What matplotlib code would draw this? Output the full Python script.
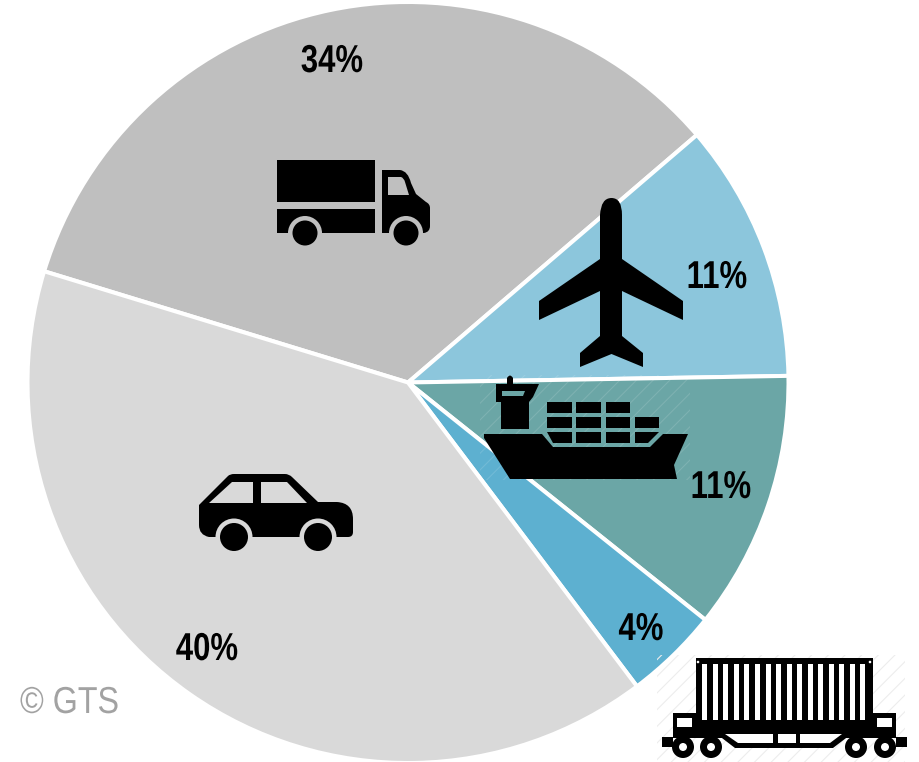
import matplotlib
matplotlib.use("Agg")
import matplotlib.pyplot as plt
import matplotlib.patheffects as pe
from matplotlib.patches import Circle, PathPatch, Polygon, Rectangle
from matplotlib.path import Path
from matplotlib.transforms import Affine2D

W, H = 920, 762
CX, CY, R = 408, 382.5, 380.5

modes = ["Truck", "Air", "Ship", "Rail", "Car"]
shares = [34, 11, 11, 4, 40]
colors = ["#BFBFBF", "#8CC6DC", "#6BA6A6", "#5DB0D0", "#D9D9D9"]
label_x = [332, 717, 721, 641, 207]
label_y = [62, 278, 488, 630, 650]
START_ANGLE = 163.0

plt.rcParams["font.family"] = ["Liberation Sans", "DejaVu Sans"]
plt.rcParams["hatch.linewidth"] = 0.8

fig = plt.figure(figsize=(W / 100, H / 100), dpi=100, facecolor="white")

# Pie axes sized so the unit circle fills the chosen pixel box
pie_ax = fig.add_axes([(CX - R) / W, 1 - (CY + R) / H, 2 * R / W, 2 * R / H])
pie_ax.pie(shares, colors=colors, startangle=START_ANGLE, counterclock=False, radius=1,
           wedgeprops={"edgecolor": "white", "linewidth": 2.9})
pie_ax.set_xlim(-1, 1)
pie_ax.set_ylim(-1, 1)
pie_ax.set_aspect("equal")
pie_ax.axis("off")

# Overlay in pixel units for the pictograms and text
ax = fig.add_axes([0, 0, 1, 1])
ax.set_xlim(0, W)
ax.set_ylim(H, 0)
ax.axis("off")
ax.patch.set_alpha(0)


class Condensed(pe.AbstractPathEffect):
    """Squeeze glyph outlines horizontally about a fixed display x."""

    def __init__(self, anchor_x, factor):
        super().__init__()
        self.anchor_x = anchor_x
        self.factor = factor

    def draw_path(self, renderer, gc, tpath, affine, rgbFace=None):
        squeeze = Affine2D().translate(-self.anchor_x, 0).scale(self.factor, 1).translate(self.anchor_x, 0)
        renderer.draw_path(gc, tpath, affine + squeeze, rgbFace)


def poly(points, color="black", z=3):
    ax.add_patch(Polygon(points, closed=True, facecolor=color, edgecolor="none", zorder=z))


def disc(x, y, r, color="black", z=3):
    ax.add_patch(Circle((x, y), r, facecolor=color, edgecolor="none", zorder=z))


def wheel(x, y, ring, r, bg):
    disc(x, y, ring, bg, z=4)
    disc(x, y, r, "black", z=5)


def smooth(vertices, color="black", z=3):
    # vertices: list of (code, x, y); M/L start or extend, Q is a quadratic control+end pair
    verts, codes = [], []
    for item in vertices:
        if item[0] == "M":
            verts.append(item[1:]); codes.append(Path.MOVETO)
        elif item[0] == "L":
            verts.append(item[1:]); codes.append(Path.LINETO)
        else:
            verts += [item[1:3], item[3:5]]; codes += [Path.CURVE3, Path.CURVE3]
    verts.append(verts[0]); codes.append(Path.CLOSEPOLY)
    ax.add_patch(PathPatch(Path(verts, codes), facecolor=color, edgecolor="none", zorder=z))


# Faint striped backings behind the ship and the wagon
ax.add_patch(Rectangle((480, 375), 210, 105, facecolor="none", edgecolor=(1, 1, 1, 0.13),
                       hatch="//", linewidth=0, zorder=2))
ax.add_patch(Rectangle((657, 655), 248, 107, facecolor="none", edgecolor="#EDEDED",
                       hatch="//", linewidth=0, zorder=2))

# Truck
TRUCK_BG = colors[0]
poly([(277, 160), (375, 160), (375, 202), (277, 202)])
poly([(277, 209), (375, 209), (375, 233), (277, 233)])
smooth([("M", 382, 170), ("L", 400, 170), ("Q", 408, 171, 411, 183), ("L", 416, 194),
        ("L", 426, 202), ("Q", 430, 204, 430, 208), ("L", 430, 226), ("Q", 430, 232, 424, 233),
        ("L", 382, 233)])
smooth([("M", 388, 177), ("L", 401, 177), ("Q", 404, 178, 405, 182), ("L", 409, 195), ("L", 388, 195)],
       TRUCK_BG, z=4)
wheel(305, 233, 17, 12.5, TRUCK_BG)
wheel(406, 233, 17, 12.5, TRUCK_BG)

# Aeroplane
smooth([("M", 600, 215), ("Q", 601, 198, 611.5, 198), ("Q", 622, 198, 622, 215),
        ("L", 622, 259), ("L", 683, 301), ("L", 683, 320), ("L", 622, 291), ("L", 622, 336),
        ("L", 643, 353), ("L", 643, 367), ("L", 611.5, 354), ("L", 580, 367), ("L", 580, 353),
        ("L", 600, 336), ("L", 600, 291), ("L", 539, 320), ("L", 539, 301), ("L", 600, 259)])

# Container ship
SHIP_BG = colors[2]
poly([(484, 434), (542, 434), (553, 447), (650, 447), (663, 434), (688, 434), (674, 465),
      (677, 479), (510, 479), (484, 438)])
poly([(501, 402), (529, 402), (529, 429), (501, 429)])
poly([(496, 384), (539, 384), (533, 397), (529, 402), (496, 402)])
poly([(502, 391), (525, 391), (523, 396), (502, 396)], SHIP_BG, z=4)
smooth([("M", 507, 384), ("L", 507, 378), ("Q", 510, 373, 513, 378), ("L", 513, 384)])
for x0, x1 in [(547, 572), (576, 601), (606, 630)]:
    poly([(x0, 402), (x1, 402), (x1, 413), (x0, 413)])
for x0, x1 in [(547, 572), (576, 601), (606, 630), (635, 659)]:
    poly([(x0, 417), (x1, 417), (x1, 428), (x0, 428)])
poly([(547, 432), (572, 432), (572, 443), (553, 443)])
poly([(576, 432), (601, 432), (601, 443), (576, 443)])
poly([(606, 432), (630, 432), (630, 443), (606, 443)])
poly([(635, 432), (659, 432), (648, 443), (635, 443)])

# Car
CAR_BG = colors[4]
smooth([("M", 199, 505), ("L", 228, 476), ("Q", 230, 474, 234, 474), ("L", 285, 474),
        ("Q", 289, 474, 292, 477), ("L", 318, 502), ("L", 337, 502), ("Q", 353, 503, 353, 519),
        ("L", 353, 532), ("Q", 353, 537, 348, 537), ("L", 209, 537), ("Q", 199, 535, 199, 525)])
poly([(209, 503), (232, 482), (253, 482), (253, 503)], CAR_BG, z=4)
poly([(261, 482), (287, 482), (307, 503), (261, 503)], CAR_BG, z=4)
wheel(234, 537, 18.5, 14, CAR_BG)
wheel(318, 537, 18.5, 14, CAR_BG)

# Container wagon
poly([(696, 658), (873, 658), (873, 722), (696, 722)])
stripe_left = [702, 713, 723, 734, 744, 755, 766, 776, 787, 797, 808, 818, 829, 839, 850, 860]
for sx in stripe_left:
    poly([(sx, 664), (sx + 4.8, 664), (sx + 4.8, 720), (sx, 720)], "white", z=4)
disc(698, 662, 1.3, "white", z=4)
disc(870, 662, 1.3, "white", z=4)
poly([(673, 713), (896, 713), (896, 738), (673, 738)])
poly([(677, 718), (692, 718), (692, 727), (677, 727)], "white", z=4)
poly([(877, 718), (892, 718), (892, 727), (877, 727)], "white", z=4)
poly([(718, 735), (735, 748), (833, 748), (850, 735)])
poly([(725, 734), (738, 743), (773, 743), (773, 734)], "white", z=4)
poly([(778, 734), (796, 734), (796, 743), (778, 743)], "white", z=4)
poly([(800, 734), (842, 734), (830, 743), (800, 743)], "white", z=4)
poly([(662, 737), (673, 737), (673, 747), (662, 747)])
poly([(896, 737), (907, 737), (907, 747), (896, 747)])
for wx in [683, 711, 856, 885]:
    disc(wx, 747, 11, "black", z=5)
    disc(wx, 747, 4, "white", z=6)

# Percentage labels
for share, x, y in zip(shares, label_x, label_y):
    ax.text(x, y, f"{share}%", fontsize=28, fontweight="bold", color="black",
            ha="center", va="center", zorder=7, path_effects=[Condensed(x, 0.8)])

ax.text(20, 703, "© GTS", fontsize=27, color="#A2A2A2", ha="left", va="center", zorder=7,
        path_effects=[Condensed(20, 0.86)])

fig.savefig("out.png", dpi=100, facecolor="white")
